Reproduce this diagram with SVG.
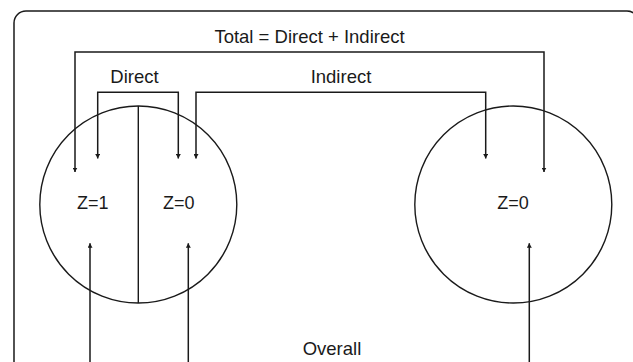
<svg xmlns="http://www.w3.org/2000/svg" width="633" height="362" viewBox="0 0 633 362">
<style>
.ln{fill:none;stroke:#1a1a1a;stroke-width:1.5}
.cl{fill:none;stroke:#1a1a1a;stroke-width:1.4}
.tx{font-family:"Liberation Sans",Arial,sans-serif;font-size:18.5px;fill:#1a1a1a;text-anchor:middle}
.zt{font-family:"Liberation Sans",Arial,sans-serif;font-size:18px;fill:#1a1a1a;text-anchor:middle}
</style>
<defs>
<marker id="ah" viewBox="0 0 10 10" refX="10" refY="5" markerWidth="4.5" markerHeight="5" markerUnits="userSpaceOnUse" orient="auto-start-reverse" preserveAspectRatio="none">
<path d="M0,0 L10,5 L0,10 Z" fill="#1a1a1a"/>
</marker>
</defs>
<rect id="frame" x="14" y="11" width="625" height="380" rx="12" ry="12" class="ln"/>
<g id="group-left">
<circle cx="138.3" cy="204.5" r="98.5" class="cl"/>
<line x1="138.3" y1="106" x2="138.3" y2="303" class="cl"/>
<text class="zt" x="92.8" y="208.5">Z=1</text>
<text class="zt" x="178.7" y="208.5">Z=0</text>
</g>
<g id="group-right">
<circle cx="513.3" cy="204.5" r="98.5" class="cl"/>
<text class="zt" x="513" y="208.5">Z=0</text>
</g>
<g id="labels">
<text class="tx" x="309.5" y="43.3">Total = Direct + Indirect</text>
<text class="tx" x="134.5" y="82.7">Direct</text>
<text class="tx" x="341" y="82.7">Indirect</text>
<text class="tx" x="332" y="355">Overall</text>
</g>
<g id="connectors">
<path class="ln" d="M75,172 V52 H544 V172" marker-start="url(#ah)" marker-end="url(#ah)"/>
<path class="ln" d="M97.7,158.5 V92.3 H178.3 V158.5" marker-start="url(#ah)" marker-end="url(#ah)"/>
<path class="ln" d="M196,158.5 V92.3 H485.7 V158.5" marker-start="url(#ah)" marker-end="url(#ah)"/>
<path class="ln" d="M90,243.3 V363.2 H529.3 V243.3" marker-start="url(#ah)" marker-end="url(#ah)"/>
<path class="ln" d="M188.3,243.3 V363.2" marker-start="url(#ah)"/>
</g>
</svg>
